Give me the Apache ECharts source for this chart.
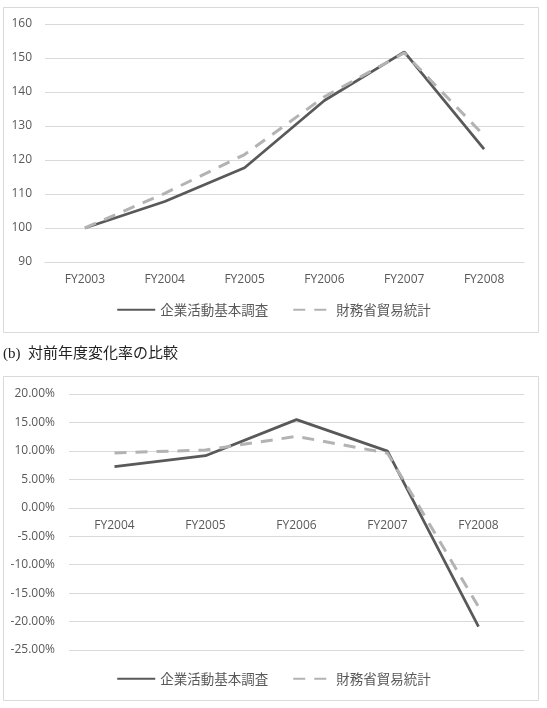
<!DOCTYPE html>
<html>
<head>
<meta charset="utf-8">
<script src="https://cdn.jsdelivr.net/npm/echarts@6/dist/echarts.min.js"></script>
<style>
html,body{margin:0;padding:0;background:#fff;}
#c{width:547px;height:708px;}
</style>
</head>
<body>
<div id="c"></div>
<script>
// ---- data ----
const categoriesIndex = ['FY2003', 'FY2004', 'FY2005', 'FY2006', 'FY2007', 'FY2008'];
const surveyIndex = [100, 107.8, 117.7, 137.5, 151.8, 123.2];
const tradeIndex = [100, 110.2, 121.6, 138.6, 151.5, 127.2];

const categoriesRate = ['FY2004', 'FY2005', 'FY2006', 'FY2007', 'FY2008'];
const surveyRate = [7.25, 9.15, 15.5, 9.95, -20.9];
const tradeRate = [9.65, 10.15, 12.55, 9.6, -17.4];

const seriesNames = ['企業活動基本調査', '財務省貿易統計'];
const captionText = '(b)  対前年度変化率の比較';

// ---- styles ----
const TXT = '#595959';
const GRID = '#d9d9d9';
const SOLID = '#595959';
const DASH = '#b3b3b3';
const FONT = '"Open Sans", "Noto Sans CJK JP", sans-serif';

const rateMin = -25, rateMax = 20, rateStep = 5;
const grid2Height = 256;
// distance of the zero line above the bottom of grid 2
const zeroOffset = (0 - rateMin) / (rateMax - rateMin) * grid2Height;

const chart = echarts.init(document.getElementById('c'), null, {renderer: 'canvas'});

function lineSeries(name, data, xi, dashed) {
  return {
    name: name, type: 'line', data: data, xAxisIndex: xi, yAxisIndex: xi,
    symbol: 'none', showSymbol: false, smooth: false, animation: false,
    lineStyle: dashed ? {color: DASH, width: 3, type: [12, 9], cap: 'butt'}
                      : {color: SOLID, width: 2.75},
    itemStyle: {color: dashed ? DASH : SOLID},
    z: dashed ? 3 : 2
  };
}

function legendAt(top) {
  return {data: seriesNames.slice(), left: 'center', top: top, itemWidth: 38, itemHeight: 14, itemGap: 24,
    itemStyle: {opacity: 0},
    textStyle: {fontFamily: '"Noto Sans CJK JP", sans-serif', fontSize: 13.5, color: TXT}, selectedMode: false};
}

const option = {
  backgroundColor: '#fff',
  animation: false,
  textStyle: {fontFamily: FONT},
  title: {
    text: captionText, left: 3, top: 347, padding: 0,
    textStyle: {fontFamily: '"Liberation Serif", "Noto Sans CJK JP", serif', fontSize: 15, fontWeight: 'normal', color: '#222'}
  },
  graphic: [
    {type: 'rect', shape: {x: 3.5, y: 7.5, width: 535, height: 325}, style: {fill: '#fff', stroke: GRID, lineWidth: 1}, z: -10, silent: true},
    {type: 'rect', shape: {x: 3.5, y: 376.5, width: 535, height: 324}, style: {fill: '#fff', stroke: GRID, lineWidth: 1}, z: -10, silent: true}
  ],
  grid: [
    {left: 45, top: 24, width: 479, height: 238},
    {left: 69, top: 394, width: 455, height: grid2Height}
  ],
  legend: [legendAt(298), legendAt(667)],
  xAxis: [
    {type: 'category', gridIndex: 0, data: categoriesIndex, boundaryGap: true,
     axisLine: {show: true, lineStyle: {color: GRID}}, axisTick: {show: false},
     axisLabel: {color: TXT, fontSize: 12, margin: 12, fontFamily: FONT}},
    {type: 'category', gridIndex: 1, data: categoriesRate, boundaryGap: true,
     position: 'bottom', offset: -zeroOffset,
     axisLine: {show: true, onZero: false, lineStyle: {color: GRID}}, axisTick: {show: false},
     axisLabel: {color: TXT, fontSize: 12, margin: 12, fontFamily: FONT}}
  ],
  yAxis: [
    {type: 'value', gridIndex: 0, min: 90, max: 160, interval: 10,
     axisLine: {show: false}, axisTick: {show: false},
     splitLine: {lineStyle: {color: GRID, width: 1}},
     axisLabel: {color: TXT, fontSize: 12, margin: 13, fontFamily: FONT}},
    {type: 'value', gridIndex: 1, min: rateMin, max: rateMax, interval: rateStep,
     axisLine: {show: false}, axisTick: {show: false},
     splitLine: {lineStyle: {color: GRID, width: 1}},
     axisLabel: {color: TXT, fontSize: 12, margin: 14, fontFamily: FONT,
                 formatter: v => v.toFixed(2) + '%'}}
  ],
  series: [
    lineSeries(seriesNames[0], surveyIndex, 0, false),
    lineSeries(seriesNames[1], tradeIndex, 0, true),
    lineSeries(seriesNames[0], surveyRate, 1, false),
    lineSeries(seriesNames[1], tradeRate, 1, true)
  ]
};
chart.setOption(option);
</script>
</body>
</html>
